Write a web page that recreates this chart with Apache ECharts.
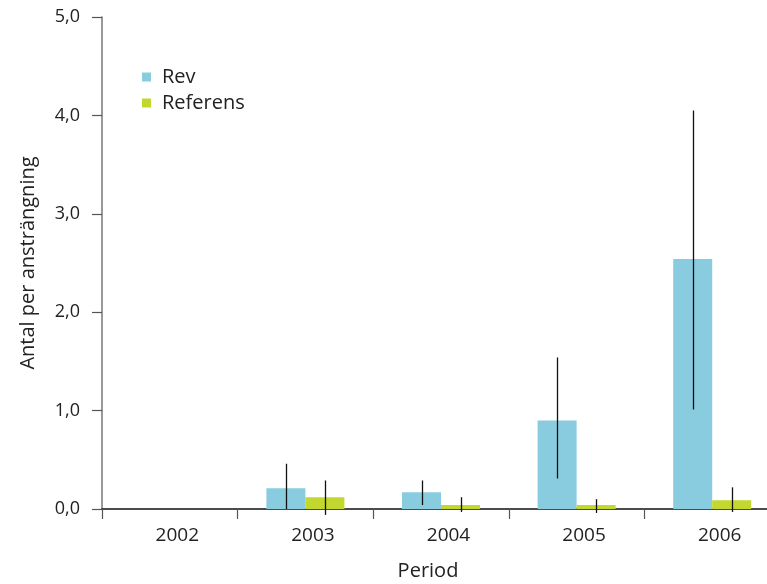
<!DOCTYPE html>
<html>
<head>
<meta charset="utf-8">
<script src="https://cdn.jsdelivr.net/npm/echarts@6/dist/echarts.min.js"></script>
<style>html,body{margin:0;padding:0;background:#fff}#c{width:767px;height:584px}</style>
</head>
<body>
<div id="c"></div>
<script>
var categories = ['2002', '2003', '2004', '2005', '2006'];
var revValues = [null, 0.21, 0.17, 0.90, 2.54];
var refValues = [null, 0.12, 0.04, 0.04, 0.09];
var revLow = [null, 0.0, 0.04, 0.31, 1.01];
var revHigh = [null, 0.46, 0.29, 1.54, 4.05];
var refLow = [null, -0.06, -0.03, -0.04, -0.03];
var refHigh = [null, 0.29, 0.12, 0.10, 0.22];
var yTicks = [0, 1, 2, 3, 4, 5];

var FONT = 'Open Sans';
var BAR_W = 39;

function errData(low, high) {
  var out = [];
  for (var i = 0; i < categories.length; i++) {
    if (low[i] != null && high[i] != null) out.push([i, low[i], high[i]]);
  }
  return out;
}

function errRender(offsetSign) {
  return function (params, api) {
    var i = api.value(0);
    var p1 = api.coord([i, api.value(1)]);
    var p2 = api.coord([i, api.value(2)]);
    var x = Math.round(p1[0] + offsetSign * BAR_W / 2) + 0.5;
    return {
      type: 'line',
      shape: { x1: x, y1: p1[1], x2: x, y2: p2[1] },
      style: { stroke: '#111', lineWidth: 1.3 }
    };
  };
}

var chart = echarts.init(document.getElementById('c'), null, { renderer: 'canvas' });
chart.setOption({
  animation: false,
  textStyle: { fontFamily: FONT },
  grid: { left: 102, top: 17, bottom: 75, right: -13, containLabel: false, outerBoundsMode: 'none' },
  legend: {
    orient: 'vertical',
    left: 142,
    top: 67,
    padding: 0,
    itemWidth: 9,
    itemHeight: 9,
    itemGap: 6,
    icon: 'rect',
    textStyle: { fontFamily: FONT, fontSize: 20, color: '#222', padding: [0, 0, 0, 6] },
    data: ['Rev', 'Referens']
  },
  xAxis: {
    type: 'category',
    data: categories,
    name: 'Period',
    nameLocation: 'middle',
    nameGap: 52,
    nameTextStyle: { fontFamily: FONT, fontSize: 20, color: '#222', padding: [0, 0, 0, -26] },
    axisLine: { show: true, lineStyle: { color: '#111', width: 1.5 } },
    axisTick: { show: true, alignWithLabel: false, length: 10, lineStyle: { color: '#555', width: 1.2 } },
    axisLabel: { fontFamily: FONT, fontSize: 19, color: '#222', margin: 17, padding: [0, 0, 0, 15] },
    splitLine: { show: false }
  },
  yAxis: {
    type: 'value',
    min: 0,
    max: 5,
    interval: 1,
    name: 'Antal per ansträngning',
    nameLocation: 'middle',
    nameGap: 64,
    nameRotate: 90,
    nameTextStyle: { fontFamily: FONT, fontSize: 20, color: '#222' },
    axisLine: { show: true, lineStyle: { color: '#777', width: 1.5 } },
    axisTick: { show: true, length: 10, lineStyle: { color: '#555', width: 1.2 } },
    axisLabel: {
      fontFamily: FONT, fontSize: 18, color: '#222', margin: 22,
      formatter: function (v) { return yTicks.indexOf(v) >= 0 ? v.toFixed(1).replace('.', ',') : ''; }
    },
    splitLine: { show: false }
  },
  series: [
    { name: 'Rev', type: 'bar', data: revValues, barWidth: BAR_W, barGap: '0%', itemStyle: { color: '#89cce0' } },
    { name: 'Referens', type: 'bar', data: refValues, barWidth: BAR_W, barGap: '0%', itemStyle: { color: '#c2d82e' } },
    { name: 'revErr', type: 'custom', data: errData(revLow, revHigh), renderItem: errRender(-1), clip: false, z: 5,
      encode: { x: 0, y: [1, 2] } },
    { name: 'refErr', type: 'custom', data: errData(refLow, refHigh), renderItem: errRender(1), clip: false, z: 5,
      encode: { x: 0, y: [1, 2] } }
  ]
});
</script>
</body>
</html>
